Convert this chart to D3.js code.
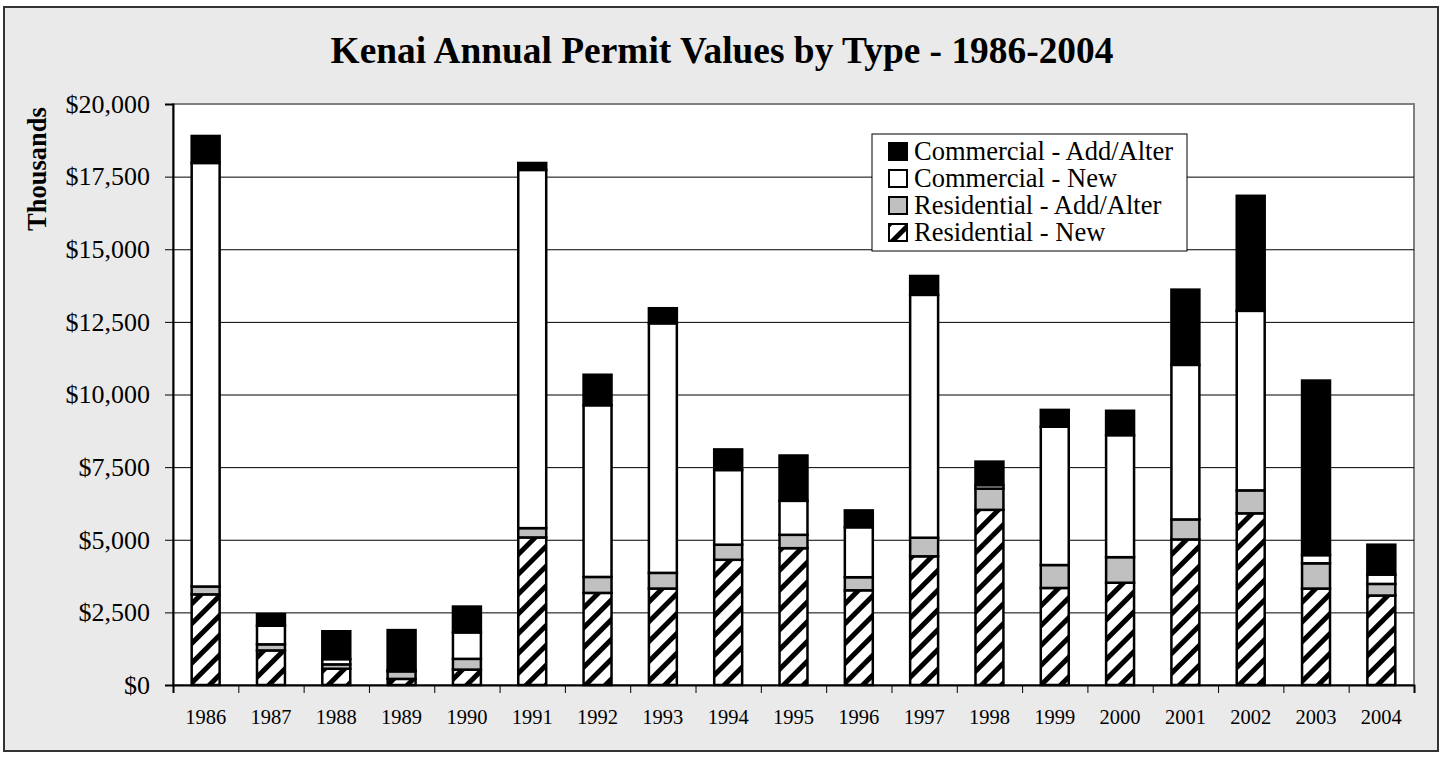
<!DOCTYPE html>
<html lang="en">
<head>
  <meta charset="UTF-8">
  <script src="https://d3js.org/d3.v7.min.js"></script>
  <title>Kenai Annual Permit Values by Type</title>
  <style>
    body { margin: 0; background: #fff; }
    text { font-family: "Liberation Serif", "Times New Roman", serif; fill: #000; }
  </style>
</head>
<body>
<div id="chart"></div>
<script>

  // values in thousands of dollars
  const years = ["1986", "1987", "1988", "1989", "1990", "1991", "1992", "1993", "1994", "1995",
    "1996", "1997", "1998", "1999", "2000", "2001", "2002", "2003", "2004"];
  const residentialNew = [3120, 1190, 560, 210, 530, 5080, 3170, 3320, 4310, 4710,
    3260, 4430, 6030, 3340, 3520, 5010, 5910, 3320, 3080];
  const residentialAdd = [270, 210, 150, 260, 370, 320, 550, 540, 520, 460,
    450, 640, 730, 790, 880, 690, 790, 870, 400];
  const commercialNew = [14580, 640, 180, 40, 910, 12330, 5910, 8590, 2570, 1170,
    1720, 8360, 120, 4760, 4200, 5320, 6180, 280, 320];
  const commercialAdd = [930, 400, 960, 1380, 890, 240, 1050, 520, 710, 1560,
    580, 650, 810, 580, 840, 2590, 3960, 6010, 1030];
  const yTicks = [0, 2500, 5000, 7500, 10000, 12500, 15000, 17500, 20000];

  const series = [
    { key: "resNew", label: "Residential - New", fill: "url(#hatch)" },
    { key: "resAdd", label: "Residential - Add/Alter", fill: "#c0c0c0" },
    { key: "comNew", label: "Commercial - New", fill: "#ffffff" },
    { key: "comAdd", label: "Commercial - Add/Alter", fill: "#000000" }
  ];

  const rows = years.map((yr, i) => ({
    year: yr,
    resNew: residentialNew[i],
    resAdd: residentialAdd[i],
    comNew: commercialNew[i],
    comAdd: commercialAdd[i]
  }));

  const W = 1445, H = 757;
  const plot = { left: 173, top: 104, right: 1414, bottom: 685 };

  const svg = d3.select("#chart").append("svg")
    .attr("width", W)
    .attr("height", H);

  // hatch for Residential - New
  const defs = svg.append("defs");
  const pat = defs.append("pattern")
    .attr("id", "hatch")
    .attr("patternUnits", "userSpaceOnUse")
    .attr("width", 14)
    .attr("height", 14)
    .attr("patternTransform", "rotate(45)");
  pat.append("rect").attr("width", 14).attr("height", 14).attr("fill", "#fff");
  pat.append("rect").attr("width", 5).attr("height", 14).attr("fill", "#000");

  // outer frame
  svg.append("rect")
    .attr("x", 4).attr("y", 7)
    .attr("width", 1434).attr("height", 744)
    .attr("fill", "#eaeaea")
    .attr("stroke", "#333")
    .attr("stroke-width", 2);

  svg.append("text")
    .attr("x", 722)
    .attr("y", 63)
    .attr("text-anchor", "middle")
    .style("font-size", "37.4px")
    .style("font-weight", "bold")
    .text("Kenai Annual Permit Values by Type - 1986-2004");

  // scales
  const x = d3.scaleBand()
    .domain(years)
    .range([plot.left, plot.right])
    .paddingInner(0.572)
    .paddingOuter(0.286);

  const xEdges = d3.scaleLinear()
    .domain([0, years.length])
    .range([plot.left, plot.right]);

  const y = d3.scaleLinear()
    .domain([0, 20000])
    .range([plot.bottom, plot.top]);

  // plot area
  svg.append("rect")
    .attr("x", plot.left).attr("y", plot.top)
    .attr("width", plot.right - plot.left)
    .attr("height", plot.bottom - plot.top)
    .attr("fill", "#fff")
    .attr("stroke", "#808080")
    .attr("stroke-width", 2);

  // gridlines
  svg.append("g")
    .selectAll("line")
    .data(yTicks.filter(d => d > 0 && d < 20000))
    .join("line")
    .attr("x1", plot.left)
    .attr("x2", plot.right)
    .attr("y1", d => y(d) + 0.5)
    .attr("y2", d => y(d) + 0.5)
    .attr("stroke", "#000")
    .attr("stroke-width", 1);

  // stacked bars
  const stacked = d3.stack().keys(series.map(s => s.key))(rows);

  svg.append("g")
    .selectAll("g")
    .data(stacked)
    .join("g")
    .attr("fill", (d, i) => series[i].fill)
    .selectAll("rect")
    .data(d => d)
    .join("rect")
    .attr("x", d => x(d.data.year))
    .attr("y", d => y(d[1]))
    .attr("width", x.bandwidth())
    .attr("height", d => y(d[0]) - y(d[1]))
    .attr("stroke", "#000")
    .attr("stroke-width", 2.5);

  // y axis
  const yAxis = svg.append("g")
    .attr("transform", `translate(${plot.left},0)`)
    .call(d3.axisLeft(y)
      .tickValues(yTicks)
      .tickSize(8)
      .tickPadding(15)
      .tickFormat(d => "$" + d3.format(",")(d)));
  yAxis.select(".domain").attr("stroke", "#000").attr("stroke-width", 2);
  yAxis.selectAll(".tick line").attr("stroke", "#000");
  yAxis.selectAll(".tick text")
    .style("font-size", "26px")
    .style("font-family", "'Liberation Serif', 'Times New Roman', serif");

  // x axis: tick marks at category edges, labels centred under bars
  const xTicks = svg.append("g")
    .attr("transform", `translate(0,${plot.bottom})`)
    .call(d3.axisBottom(xEdges)
      .tickValues(d3.range(years.length + 1))
      .tickSize(8)
      .tickFormat(""));
  xTicks.select(".domain").attr("stroke", "#000").attr("stroke-width", 2);
  xTicks.selectAll(".tick line").attr("stroke", "#000");

  const xAxis = svg.append("g")
    .attr("transform", `translate(0,${plot.bottom})`)
    .call(d3.axisBottom(x).tickSize(0).tickPadding(24));
  xAxis.select(".domain").remove();
  xAxis.selectAll(".tick text")
    .style("font-size", "20.5px")
    .style("font-family", "'Liberation Serif', 'Times New Roman', serif");

  svg.append("text")
    .attr("transform", "translate(37,169) rotate(-90)")
    .attr("text-anchor", "middle")
    .attr("dominant-baseline", "central")
    .style("font-size", "26.5px")
    .style("font-weight", "bold")
    .text("Thousands");

  // legend
  const legend = svg.append("g");
  legend.append("rect")
    .attr("x", 872).attr("y", 134)
    .attr("width", 315).attr("height", 117)
    .attr("fill", "#fff")
    .attr("stroke", "#000")
    .attr("stroke-width", 1);

  const items = legend.selectAll("g.item")
    .data(series.slice().reverse())
    .join("g")
    .attr("class", "item")
    .attr("transform", (d, i) => `translate(889,${160 + i * 27})`);
  items.append("rect")
    .attr("y", -17)
    .attr("width", 18)
    .attr("height", 17)
    .attr("fill", d => d.fill)
    .attr("stroke", "#000")
    .attr("stroke-width", 2);
  items.append("text")
    .attr("x", 25)
    .style("font-size", "26.5px")
    .text(d => d.label);

</script>
</body>
</html>
